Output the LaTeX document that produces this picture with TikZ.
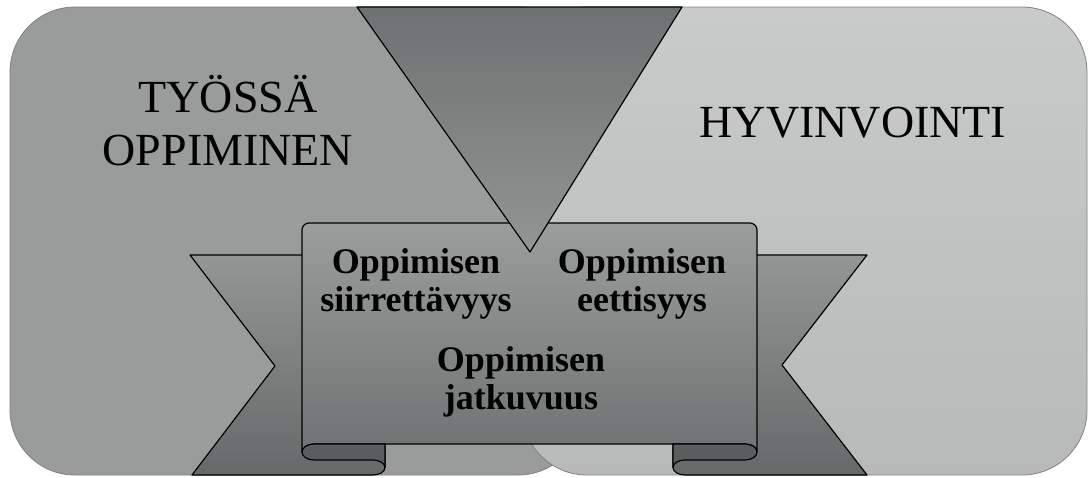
\documentclass[tikz,border=0pt]{standalone}
\usepackage{fontspec}
\setmainfont{Liberation Serif}
\definecolor{bgLeft}{HTML}{9A9C9C}
\definecolor{bgRightTop}{HTML}{C9CBCB}
\definecolor{bgRightBot}{HTML}{B8BABA}
\definecolor{frameGray}{HTML}{808282}
\definecolor{wedgeTop}{HTML}{6E7171}
\definecolor{wedgeBot}{HTML}{939595}
\definecolor{panelTop}{HTML}{9B9D9D}
\definecolor{panelBot}{HTML}{707373}
\definecolor{tailTop}{HTML}{949696}
\definecolor{tailBot}{HTML}{666969}
\definecolor{foldDark}{HTML}{5A5D5D}

\begin{document}
\begin{tikzpicture}[x=1pt,y=-1pt,
	bgbox/.style={draw=frameGray, line width=0.8pt, rounded corners=65pt},
	outline/.style={draw=black, line width=1.2pt, line join=round},
	titletext/.style={font=\fontsize{46}{53}\selectfont, align=center, inner sep=0pt},
	learntext/.style={font=\bfseries\fontsize{36}{38}\selectfont, align=center, inner sep=0pt}]
	\useasboundingbox (0,0) rectangle (1091,477);
	\path[bgbox, fill=bgLeft] (10,7) rectangle (583,475);
	\path[bgbox, top color=bgRightTop, bottom color=bgRightBot] (522,7) rectangle (1087,475);

	\path[outline, top color=tailTop, bottom color=tailBot] (190,255) -- (385,255) -- (385,467.5) .. controls (385,471.6) and (379.6,475) .. (373,475) -- (192,475) -- (275,366) -- cycle;
	\path[outline, top color=tailTop, bottom color=tailBot] (867,255) -- (673,255) -- (673,467.5) .. controls (673,471.6) and (678.4,475) .. (685,475) -- (867,475) -- (782,365) -- cycle;

	\path[outline, top color=panelTop, bottom color=panelBot] (302,452) [rounded corners=7pt] -- (302,223) -- (757,223) [sharp corners] -- (757,452) .. controls (757,447.6) and (751.6,444) .. (745,444) -- (314,444) .. controls (307.4,444) and (302,447.6) .. (302,452) -- cycle;
	\path[outline, fill=foldDark] (314,444) -- (385,444) -- (385,467.5) .. controls (385,463.4) and (379.6,460) .. (373,460) -- (314,460) .. controls (307.4,460) and (302,456.4) .. (302,452) .. controls (302,447.6) and (307.4,444) .. (314,444) -- cycle;
	\path[outline, fill=foldDark] (745,444) -- (673,444) -- (673,467.5) .. controls (673,463.4) and (678.4,460) .. (685,460) -- (745,460) .. controls (751.6,460) and (757,456.4) .. (757,452) .. controls (757,447.6) and (751.6,444) .. (745,444) -- cycle;

	\path[outline, top color=wedgeTop, bottom color=wedgeBot] (357,7) -- (682,7) -- (530,252) -- cycle;

	\node (tyossa) at (228,121) [titletext] {TYÖSSÄ\\OPPIMINEN};
	\node (hyvinvointi) at (853,123) [titletext] {HYVINVOINTI};
	\node (siirto) at (416,284) [learntext] {Oppimisen\\siirrettävyys};
	\node (etiikka) at (642,284) [learntext] {Oppimisen\\eettisyys};
	\node (jatkuvuus) at (521,382) [learntext] {Oppimisen\\jatkuvuus};
\end{tikzpicture}
\end{document}
